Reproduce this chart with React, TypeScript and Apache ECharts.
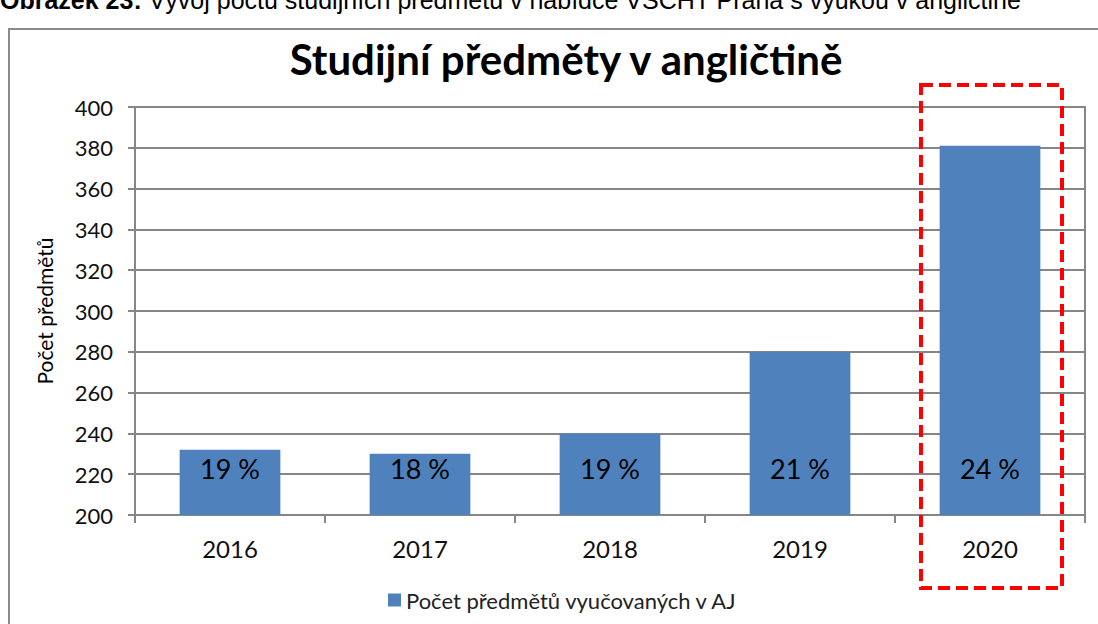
import React, { useEffect, useRef } from "react";
import * as echarts from "echarts";

const categories = ["2016", "2017", "2018", "2019", "2020"];
const counts = [232, 230, 240, 280, 381];
const shares = ["19 %", "18 %", "19 %", "21 %", "24 %"];
const seriesName = "Počet předmětů vyučovaných v AJ";
const chartTitle = "Studijní předměty v angličtině";
const yAxisName = "Počet předmětů";
const caption = "Vývoj počtu studijních předmětů v nabídce VŠCHT Praha s výukou v angličtině";
const captionLabel = "Obrázek 23:";
const highlighted = "2020";

const FONT = "Lato, 'Open Sans', sans-serif";
const GRID = "#868686";

export default function App() {
  const ref = useRef<HTMLDivElement>(null);
  useEffect(() => {
    if (!ref.current) return;
    const chart = echarts.init(ref.current, null, { renderer: "svg" });
    chart.setOption({
      animation: false,
      backgroundColor: "#fff",
      title: {
        text: chartTitle,
        left: 561,
        top: 33,
        textAlign: "center",
        textStyle: { fontFamily: FONT, fontSize: 42, fontWeight: "bold", color: "#000" },
      },
      legend: {
        left: 383,
        top: 584,
        icon: "rect",
        itemWidth: 13,
        itemHeight: 13,
        itemGap: 6,
        textStyle: { fontFamily: FONT, fontSize: 22, color: "#222" },
        data: [seriesName],
      },
      grid: { left: 135, right: 13, top: 107, bottom: 109 },
      xAxis: {
        type: "category",
        data: categories,
        boundaryGap: true,
        axisLine: { lineStyle: { color: GRID, width: 2 } },
        axisTick: { show: true, interval: 0, length: 8, lineStyle: { color: GRID, width: 2 } },
        axisLabel: { margin: 21, fontFamily: FONT, fontSize: 24, color: "#111" },
      },
      yAxis: [
        {
          type: "value",
          min: 200,
          max: 400,
          interval: 20,
          name: yAxisName,
          nameLocation: "middle",
          nameGap: 80,
          nameRotate: 90,
          nameTextStyle: { fontFamily: FONT, fontSize: 21, color: "#000" },
          axisLine: { show: true, lineStyle: { color: GRID, width: 2 } },
          axisTick: { show: true, length: 7, lineStyle: { color: GRID, width: 2 } },
          axisLabel: { margin: 22, fontFamily: FONT, fontSize: 22, color: "#111" },
          splitLine: { lineStyle: { color: GRID, width: 2 } },
        },
        {
          type: "value",
          position: "right",
          min: 200,
          max: 400,
          interval: 20,
          axisLine: { show: true, lineStyle: { color: GRID, width: 2 } },
          axisTick: { show: false },
          axisLabel: { show: false },
          splitLine: { show: false },
        },
      ],
      series: [
        {
          name: seriesName,
          type: "bar",
          data: counts,
          barCategoryGap: "47%",
          itemStyle: { color: "#4F81BD" },
          label: {
            show: true,
            position: "insideBottom",
            distance: 33,
            fontFamily: FONT,
            fontSize: 27,
            color: "#000",
            formatter: (p: any) => shares[p.dataIndex],
          },
        },
      ],
    });

    const cx = chart.convertToPixel({ xAxisIndex: 0 }, highlighted) as number;
    const yTop = chart.convertToPixel({ yAxisIndex: 0 }, 400) as number;
    const yBottom = chart.convertToPixel({ yAxisIndex: 0 }, 200) as number;
    chart.setOption({
      graphic: [
        {
          type: "rect",
          shape: { x: 9, y: 29, width: 1200, height: 700 },
          style: { fill: "none", stroke: "#8a8a8a", lineWidth: 2 },
          silent: true,
        },
        {
          type: "text",
          x: 0,
          y: 12,
          style: {
            text: "{b|" + captionLabel + "} " + caption,
            fontFamily: "'Liberation Sans Narrow', 'Liberation Sans', sans-serif",
            fontSize: 25,
            fill: "#000",
            verticalAlign: "bottom",
            rich: {
              b: {
                fontFamily: "'Liberation Sans Narrow', 'Liberation Sans', sans-serif",
                fontSize: 25,
                fontWeight: "bold",
                fill: "#000",
              },
            },
          },
          silent: true,
        },
        {
          type: "rect",
          shape: { x: cx - 69, y: yTop - 22, width: 141, height: yBottom - yTop + 95 },
          style: { fill: "none", stroke: "#FF0000", lineWidth: 4, lineDash: [12, 6] },
          silent: true,
          z: 100,
        },
      ],
    });
    return () => chart.dispose();
  }, []);
  return (
    <div
      ref={ref}
      style={{ position: "absolute", left: 0, top: 0, width: 1098, height: 624 }}
    />
  );
}
